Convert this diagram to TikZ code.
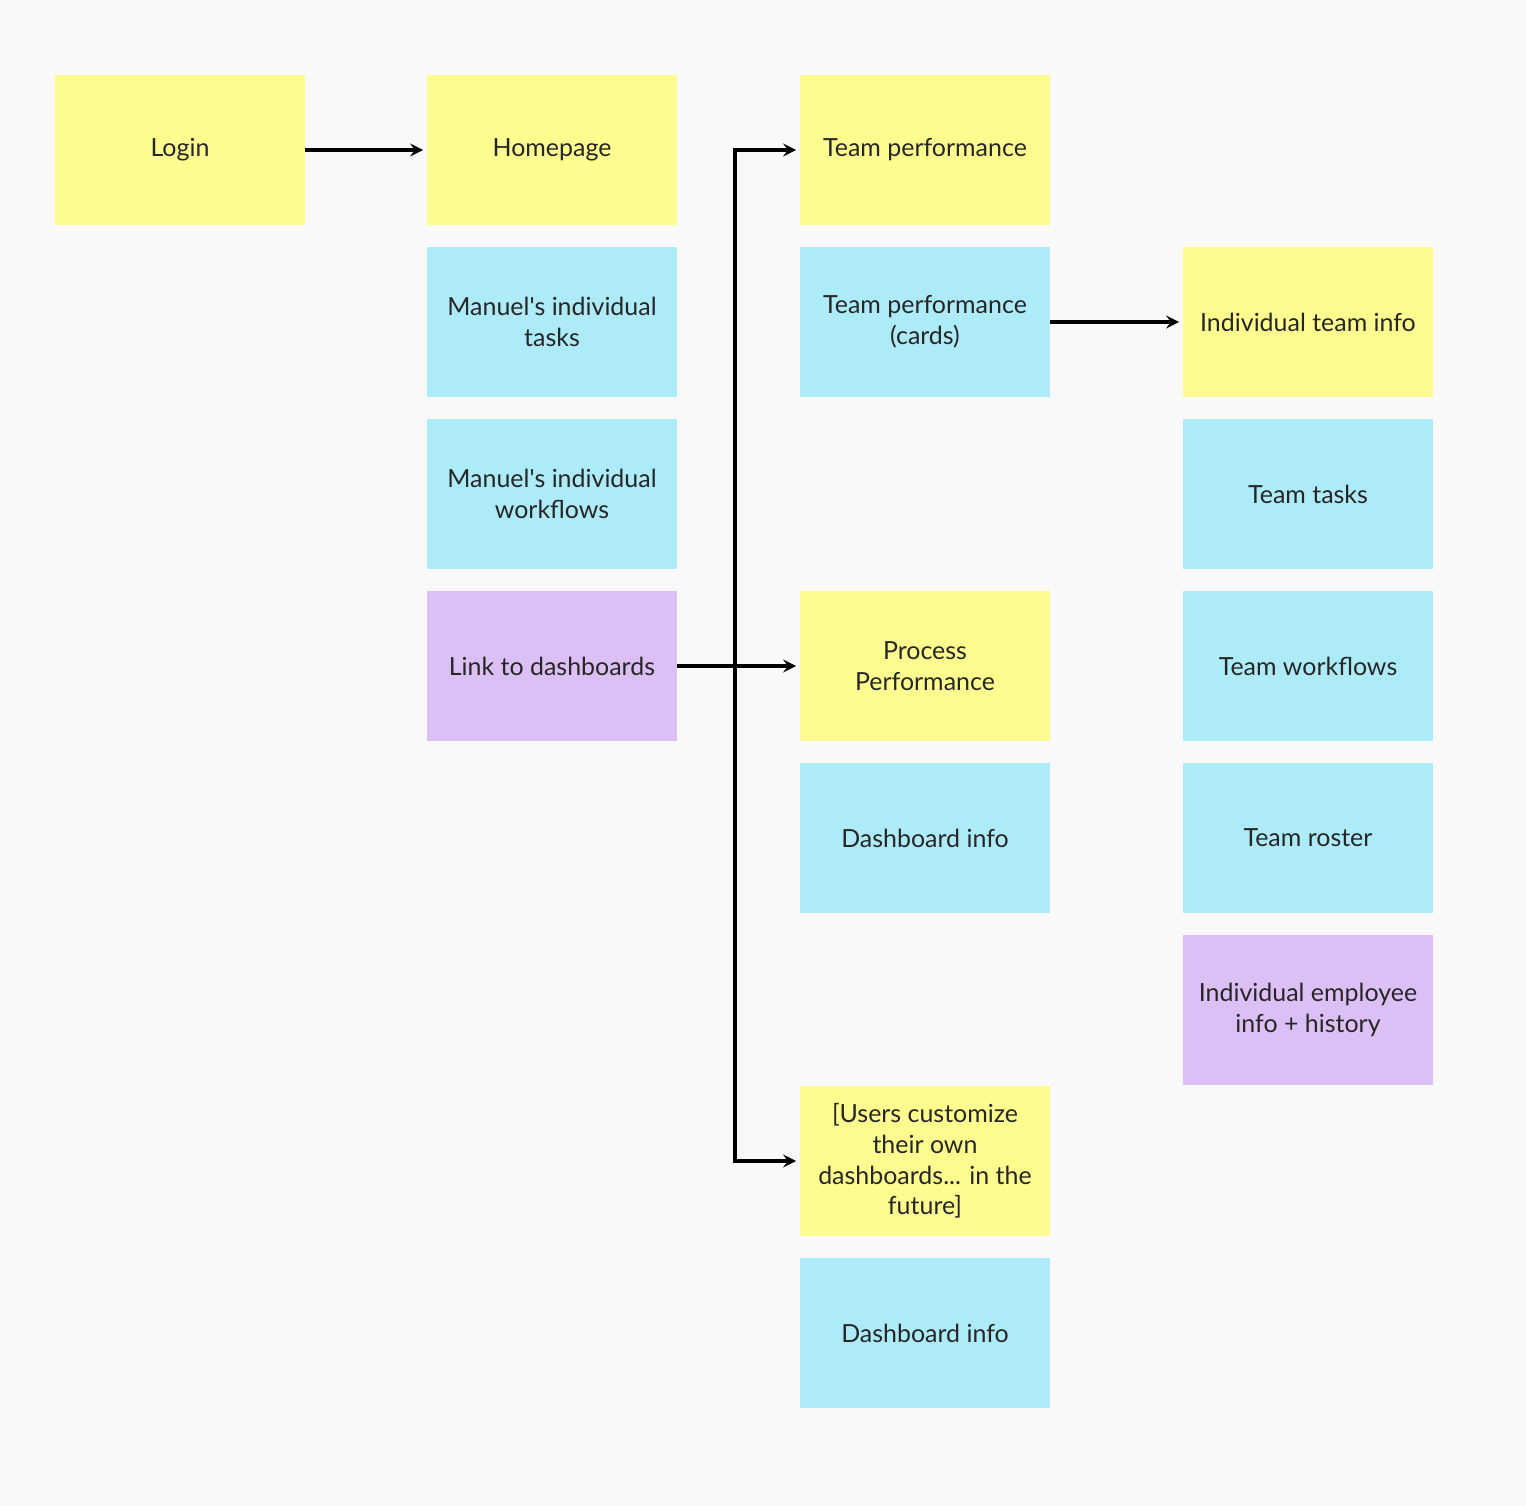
\documentclass[tikz,border=0pt]{standalone}
\usepackage{fontspec}
\setmainfont{Lato}
\usetikzlibrary{positioning,arrows}
\definecolor{sticky}{RGB}{254,252,142}
\definecolor{page}{RGB}{173,235,249}
\definecolor{link}{RGB}{220,192,245}
\definecolor{canvas}{RGB}{249,249,249}
\tikzset{%
  card/.style={rectangle, minimum width=5cm, minimum height=3cm, align=center,
    text=black!85, font=\fontsize{14.2}{17.5}\selectfont},% one sticky note
  screen/.style={card, fill=sticky},% a screen
  section/.style={card, fill=page},% a part of a screen
  jump/.style={card, fill=link},% link to another screen
  flow/.style={line width=2.2pt, -stealth, shorten >=2pt}% navigation arrow
}

\begin{document}
\begin{tikzpicture}[x=0.02cm, y=-0.02cm]
\fill[canvas] (0,0) rectangle (1526,1506);
\useasboundingbox (0,0) rectangle (1526,1506);

\node[screen] (login) at (180, 150) {Login};

\node[screen]  (home)      at (552, 150) {Homepage};
\node[section] (tasks)     at (552, 322) {Manuel\textquotesingle s individual\\tasks};
\node[section] (workflows) at (552, 494) {Manuel\textquotesingle s individual\\workflows};
\node[jump]    (dashlink)  at (552, 666) {Link to dashboards};

\node[screen]  (teamperf)  at (925, 150)  {Team performance};
\node[section] (cards)     at (925, 322)  {Team performance\\(cards)};
\node[screen]  (process)   at (925, 666)  {Process\\Performance};
\node[section] (dashinfo)  at (925, 838)  {Dashboard info};
\node[screen]  (custom)    at (925, 1161) {[Users customize\\their own\\dashboards... in the\\future]};
\node[section] (dashinfob) at (925, 1333) {Dashboard info};

\node[screen]  (teaminfo)  at (1308, 322)  {Individual team info};
\node[section] (teamtasks) at (1308, 494)  {Team tasks};
\node[section] (teamflows) at (1308, 666)  {Team workflows};
\node[section] (roster)    at (1308, 838)  {Team roster};
\node[jump]    (employee)  at (1308, 1010) {Individual employee\\info + history};

\draw[flow] (login) -- (home);
\draw[flow] (cards) -- (teaminfo);
\draw[flow] (dashlink) -- (process);

\coordinate (spine) at (735, 666);
\draw[flow] (spine) |- (teamperf.west);
\draw[flow] (spine) |- (custom.west);

\end{tikzpicture}
\end{document}
